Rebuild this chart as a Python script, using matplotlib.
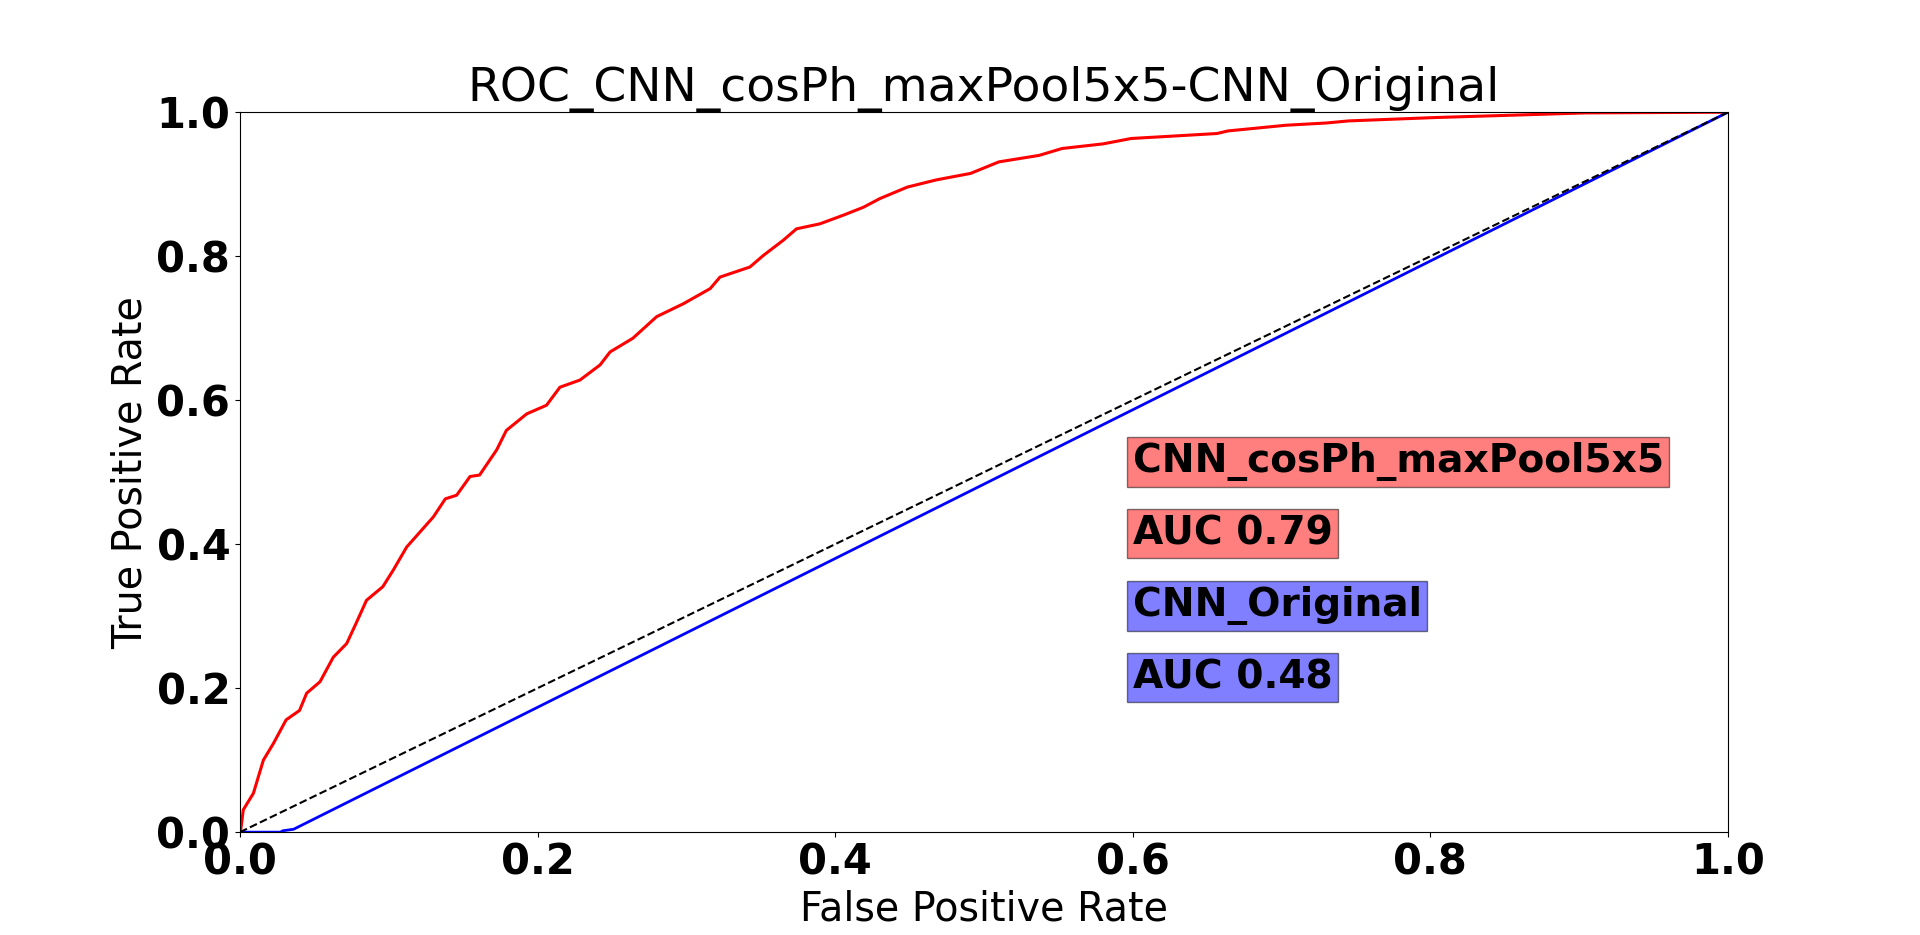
import matplotlib
matplotlib.use('Agg')
import matplotlib.pyplot as plt

# ROC points
fpr_a = [0.0, 0.0005, 0.0022, 0.009, 0.0157, 0.0224, 0.031, 0.040, 0.0448, 0.0538,
         0.0627, 0.0717, 0.078, 0.085, 0.096, 0.103, 0.112, 0.121, 0.130, 0.138,
         0.1456, 0.1546, 0.161, 0.1725, 0.179, 0.1927, 0.206, 0.215, 0.2285, 0.242,
         0.2487, 0.264, 0.28, 0.298, 0.316, 0.3226, 0.3427, 0.3517, 0.365, 0.374,
         0.3898, 0.4055, 0.419, 0.43, 0.4485, 0.468, 0.491, 0.510, 0.537, 0.5525,
         0.580, 0.599, 0.626, 0.6566, 0.664, 0.703, 0.730, 0.745, 0.8035, 0.873,
         0.904, 1.0]
tpr_a = [0.0, 0.003, 0.031, 0.054, 0.1, 0.123, 0.156, 0.169, 0.193, 0.209,
         0.243, 0.262, 0.29, 0.322, 0.341, 0.364, 0.396, 0.417, 0.438, 0.463,
         0.468, 0.494, 0.496, 0.531, 0.558, 0.581, 0.593, 0.618, 0.628, 0.649,
         0.667, 0.686, 0.716, 0.734, 0.755, 0.771, 0.785, 0.801, 0.822, 0.838,
         0.845, 0.857, 0.868, 0.88, 0.896, 0.906, 0.915, 0.931, 0.940, 0.9496,
         0.956, 0.9635, 0.9667, 0.9704, 0.974, 0.9819, 0.985, 0.9879, 0.9926, 0.997,
         0.999, 1.0]

fpr_b = [0.0, 0.027, 0.029, 0.036, 1.0]
tpr_b = [0.0, 0.0, 0.002, 0.004, 1.0]

name_a = "CNN_cosPh_maxPool5x5"
name_b = "CNN_Original"
auc_a = 0.79
auc_b = 0.48

fig = plt.figure(figsize=(19.2, 9.35), dpi=100)
ax = fig.add_subplot(111)

ax.plot(fpr_a, tpr_a, color="red", lw=2.2)
ax.plot(fpr_b, tpr_b, color="blue", lw=2)
ax.plot([0, 1], [0, 1], 'k--', lw=1.5)

ax.set_xlim(0, 1)
ax.set_ylim(0, 1)
ax.set_xlabel('False Positive Rate', fontsize=28.5)
ax.set_ylabel('True Positive Rate', fontsize=28.5)
ax.set_title("ROC_" + name_a + "-" + name_b, fontsize=34)

for lab in ax.get_xticklabels() + ax.get_yticklabels():
    lab.set_fontsize(30)
    lab.set_fontweight('bold')

# label boxes
ax.text(0.6, 0.5, name_a, fontsize=28.2, fontweight='bold',
        bbox={'facecolor': 'red', 'alpha': 0.5, 'pad': 4})
ax.text(0.6, 0.4, "AUC %.2f" % auc_a, fontsize=28.2, fontweight='bold',
        bbox={'facecolor': 'red', 'alpha': 0.5, 'pad': 4})
ax.text(0.6, 0.3, name_b, fontsize=28.2, fontweight='bold',
        bbox={'facecolor': 'blue', 'alpha': 0.5, 'pad': 4})
ax.text(0.6, 0.2, "AUC %.2f" % auc_b, fontsize=28.2, fontweight='bold',
        bbox={'facecolor': 'blue', 'alpha': 0.5, 'pad': 4})

fig.savefig('out.png', dpi=100)
